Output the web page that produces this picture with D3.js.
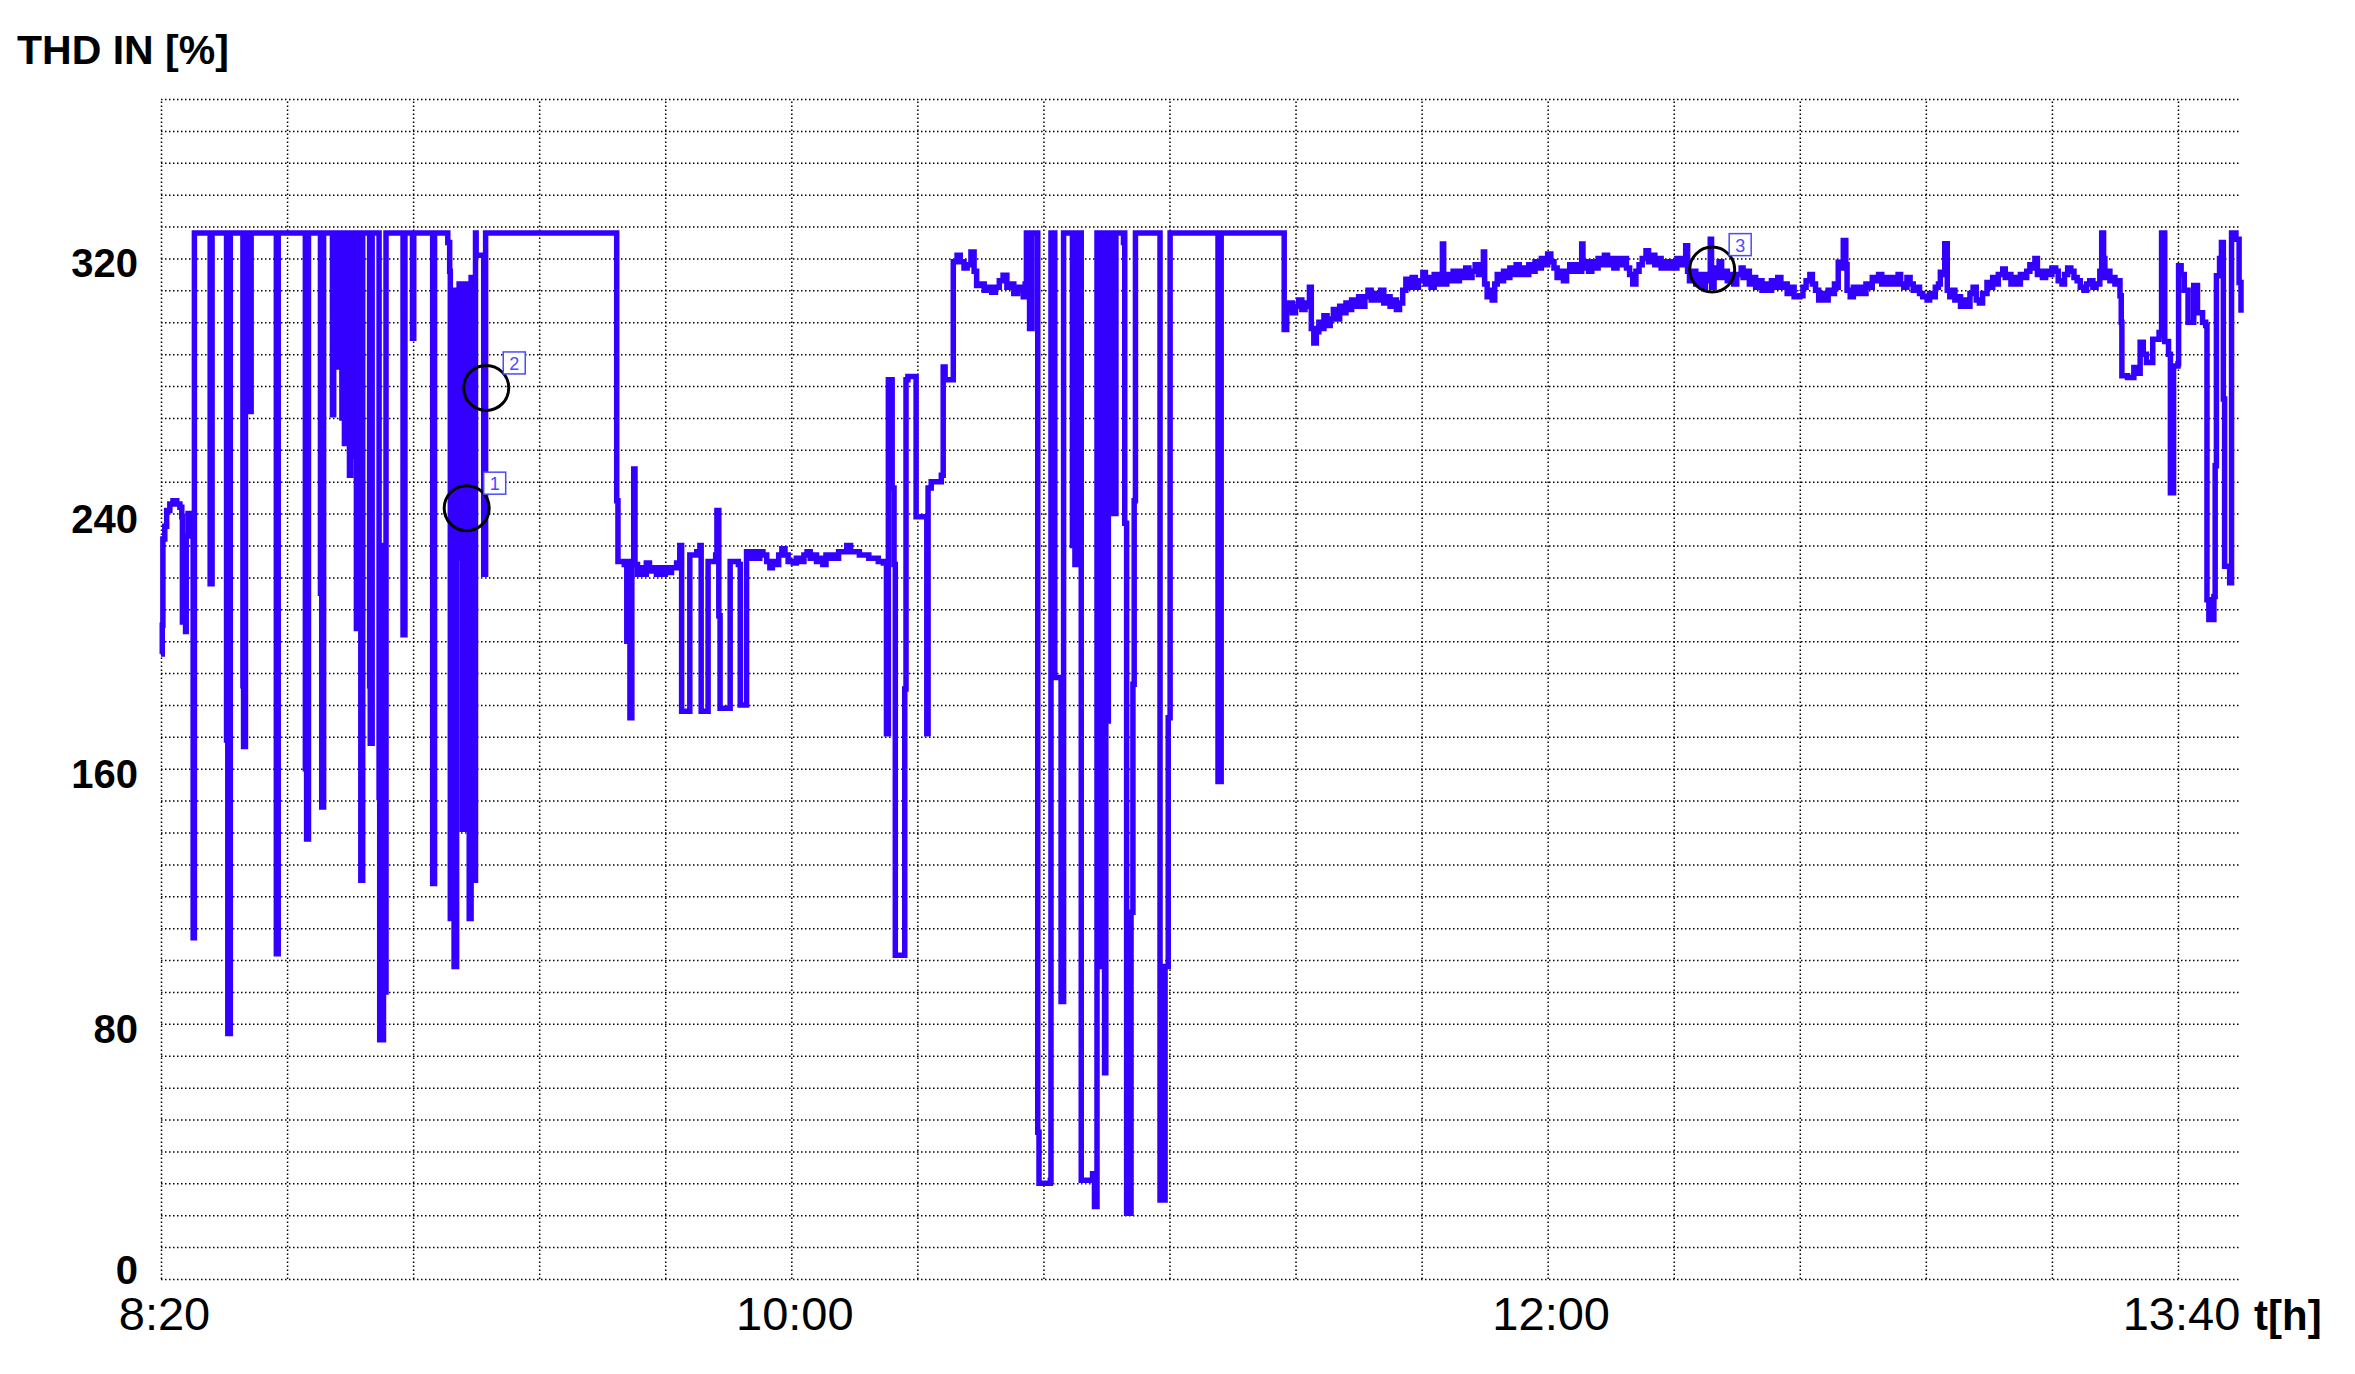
<!DOCTYPE html>
<html>
<head>
<meta charset="utf-8">
<script src="https://cdn.jsdelivr.net/npm/d3@7"></script>
<style>
body { margin: 0; background: #fff; }
svg { display: block; font-family: "Liberation Sans", Arial, sans-serif; }
.grid line { stroke: #000; stroke-width: 1.5; stroke-dasharray: 1.5, 2.5; }
.grid path { display: none; }
.ticks path { display: none; }
</style>
</head>
<body>
<script>
// minutes after 8:20, THD value [%]
var burst1 = [
    [0,196],[0.2,205],[0.3,232],[0.6,236],[0.9,241],[1.4,243],[1.9,244],[2.5,243],[3.0,242],[3.3,239],
    [3.4,206],[3.9,203],[4.0,233],[4.3,240],[4.9,240],[5.1,107],[5.3,107],[5.3,328],
    [7.8,328],[7.8,218],[8.1,218],[8.1,328],
    [10.4,328],[10.4,169],[10.6,77],[11.0,77],[11.0,328],
    [13.0,328],[13.0,186],[13.1,167],[13.4,167],[13.4,328],
    [14.0,328],[14.0,272],[14.3,272],[14.3,328],
    [18.3,328],[18.3,102],[18.6,102],[18.6,328],
    [22.9,328],[22.9,160],[23.1,138],[23.4,138],[23.4,328],
    [25.3,328],[25.3,215],[25.5,148],[25.8,148],[25.8,328],
    [27.2,328],[27.2,271],[27.4,271],[27.4,328],
    [27.8,328],[27.8,286],[28.0,286],[28.0,328],
    [28.4,300],[28.6,328],[28.7,270],[28.9,328],[29.1,262],[29.3,328],[29.5,268],[29.7,328],
    [29.9,252],[30.1,328],[30.3,275],[30.5,328],[30.6,258],[30.8,328],[31.0,204],[31.2,328],
    [31.4,270],[31.6,328],[31.7,125],[32.0,125],[32.0,328],
    [33.1,328],[33.1,186],[33.2,168],[33.5,168],[33.5,328],
    [34.6,328],[34.6,151],[34.7,75],[35.2,75],[35.3,230],[35.4,90],[35.6,90],[35.7,328],
    [38.4,328],[38.4,202],[38.7,202],[38.7,328],
    [39.9,328],[39.9,295],[40.1,295],[40.1,328],
    [43.1,328],[43.1,124],[43.4,124],[43.4,328],
    [45.3,328],[45.5,325],[45.8,316],[45.9,113],[46.2,113],[46.3,310],[46.5,98],[46.8,98],
    [46.9,310],[47.1,226],[47.3,312],[47.5,230],[47.7,312],[47.8,141],[48.0,141],[48.1,312],
    [48.3,228],[48.5,312],[48.6,259],[48.8,312],[48.9,113],[49.1,113],[49.2,314],[49.4,224],
    [49.5,314],[49.6,125],[49.8,125],[49.9,328],
    [50.0,321],[51.1,321],[51.2,221],[51.4,221],[51.5,328]
];

var plateau1 = [
    [72.3,328],[72.3,244],[72.5,225],[73.5,224],[73.9,200],[74.2,225],[74.4,176],[74.7,225],
    [75.0,254],[75.2,224],[75.6,221],[76.0,223],[76.5,221],[77.0,224.5],[77.5,222],[78.0,223],[78.6,221],
    [79.0,223],[79.5,221],[80.0,223],[80.5,221.5],[81.0,223],[81.8,224.5],
    [82.3,230],[82.6,178],[83.9,227],[85.0,228],[85.5,230],[85.7,178],[86.8,225],
    [88.0,227],[88.2,241],[88.5,208],[88.7,179],[90.3,225],[91.6,224],[91.9,180],[92.9,228],
    [93.5,226],[94.0,228],[94.5,226],[95.0,228],[95.5,227],[96.1,225],[96.6,223],[97.0,225],[97.5,224],
    [98.0,227],[98.5,229],[99.0,227],[99.5,225],[100.3,224.5],[100.8,226],[101.5,225],[102.0,227],[102.5,228],
    [103.0,226],[103.5,227],[104.0,225],[104.6,226],[105.0,224],[105.5,227],[106.0,226],[106.5,227],
    [107.0,226],[107.5,228],[108.2,228],[108.8,230],[109.4,228],[110.0,228],[110.8,227],[111.5,227],
    [112.3,226],[113.0,226],[113.8,225],[114.6,224.5],
    [115.1,171],[115.4,282],[115.8,282],[116.0,248],[116.3,224],[116.5,101.5],[117.7,101.5],
    [118.0,185],[118.2,282],[118.5,283],[119.5,283],[119.8,239],[121.3,239],[121.5,171],
    [121.7,248],[122.2,250],[123.8,252],[124.1,286],[124.4,282],[125.5,282],[125.7,319]
];

var burst2 = [
    [126.3,321],[126.8,319],[127.4,317],[127.9,318],[128.5,322],[129.0,316],[129.4,311.5],[130.0,312],
    [130.6,310],[131.3,311],[131.8,309.4],[132.4,311],[133.0,313],[133.6,314.7],[134.2,311],[134.8,312],
    [135.3,309],[135.9,311],[136.4,310],[136.8,308],[137.1,312],
    [137.3,328],[137.8,298],[138.1,298],[138.2,328],
    [139.1,328],[139.1,46],[139.3,30],[141.1,31],[141.2,328],
    [141.8,328],[141.8,188.6],[142.7,188.6],[142.8,87],[143.1,87],[143.2,328],
    [144.5,328],[144.6,230],[144.8,328],[145.0,224],[145.2,328],[145.4,232],[145.6,328],
    [146.0,328],[146.0,31],[147.8,33],[148.1,22.7],[148.4,22.7],[148.5,328],
    [148.9,98],[149.1,328],[149.3,98],[149.5,328],[149.7,64.7],[149.9,328],[150.1,175],[150.3,328],
    [150.5,240],[150.7,328],[150.9,245],[151.1,328],[151.3,240],[151.5,328],
    [152.7,325],[152.8,328],[152.9,237],[153.2,20.6],[153.7,20.6],[153.9,115],[154.2,186.5],[154.4,244],[154.6,328],
    [158.4,328],[158.5,24.8],[159.1,24.8],[159.3,98],[159.8,176],[160.1,328],
    [167.7,328],[167.7,156],[168.2,156],[168.2,328],
    [178.1,328]
];

var drift = [
    [178.2,297.7],[178.6,304],[179.0,306],[179.5,303],[180.0,305],[180.5,307],[181.0,304],[181.5,306],
    [181.8,305],[182.2,311],[182.5,298],[182.9,293.5],[183.3,297],[183.7,300],[184.1,298],[184.5,302],
    [185.0,299],[185.5,301],[186.0,304],[186.5,301],[187.0,305],[187.5,303],[188.0,306],[188.5,304],
    [188.9,307],[189.4,305],[190.0,308],[190.5,305],[191.0,308],[191.5,310],[192.0,307],[192.5,309],
    [193.0,307],[193.5,310],[194.0,306],[194.5,308],[195.0,305],[195.5,307],[196.0,304],[196.5,306],
    [197.0,310],[197.5,313.5],[198.0,311],[198.5,314],[199.0,311],[199.5,313],[200.2,315.6],[200.6,312],
    [201.0,314],[201.5,311],[202.0,315],[202.5,312],[203.0,314],[203.3,324.5],[203.5,312],[204.0,315],
    [204.5,313],[205.0,316],[205.5,313],[206.0,316],[206.5,314],[207.0,317],[207.5,314],[208.0,316],
    [208.5,318],[209.0,315],[209.5,317],[209.8,322],[210.0,312],[210.4,308],[210.8,310],[211.2,307],
    [211.6,312],[212.0,315],[212.5,313],[213.0,316],[213.5,314],[214.0,317],[214.5,315],[215.0,318],
    [215.5,315],[216.0,317],[216.5,315],[217.0,318],[217.5,316],[218.0,319],[218.5,317],[219.0,320],
    [219.5,318],[220.0,321.4],[220.5,319],[221.0,317],[221.5,314],[222.0,316],[222.5,313],[223.0,316],
    [223.5,318],[224.0,316],[224.5,318],[225.2,316],[225.4,324.5],[225.6,317],[226.0,319],[226.5,316],
    [227.0,319],[227.5,317],[228.0,320],[228.5,318],[229.0,321],[229.5,318],[230.0,320],[230.5,317],
    [231.0,320],[231.5,318],[232.0,320],[232.5,317],[233.0,315],[233.5,312],[234.0,316],[234.5,318],
    [235.0,320],[235.6,322.4],[236.0,319],[236.5,321],[237.0,318],[237.5,320],[238.0,317],[238.5,319],
    [239.0,317],[239.5,319],[240.0,317],[240.5,320],[241.0,318],[241.5,320],[241.9,324],[242.2,316],
    [242.5,313],[243.0,316],[243.5,312],[244.0,315],[244.5,311],[245.0,315],[245.5,313],[245.8,326],
    [246.0,311],[246.4,317],[246.8,314],[247.2,319],[247.6,314],[248.0,316],[248.5,313],[249.0,315],
    [249.5,312],[250.0,315],[250.7,317],[251.0,314],[251.5,316],[252.0,312],[252.5,314],[253.0,311],
    [253.5,313],[254.0,310],[254.6,312],[255.0,310],[255.5,313],[256.0,311],[256.5,314],[257.0,311],
    [257.5,312],[258.0,309],[258.5,311],[259.1,308]
];

var tail = [
    [260.0,308.3],[260.5,311],[261.0,313],[261.6,315],[262.0,312],[262.5,310],[263.0,307],[263.5,309],
    [264.0,307],[264.5,310],[265.0,309],[265.5,312],[265.8,311],[266.1,318.8],[266.5,317],[266.9,325.6],
    [267.3,318],[267.5,310],[268.0,308],[268.5,311],[269.0,309],[269.5,311],[270.0,309],[270.5,312],
    [271.0,311],[271.5,314],[272.1,313],[272.5,315],[273.0,312],[273.5,314],[274.0,312],[274.5,314],
    [275.2,312],[275.6,315],[276.0,312],[276.5,311],[277.0,314],[277.5,312],[278.0,310],[278.5,311],
    [279.0,309],[279.5,308],[280.2,307],[280.6,309],[281.0,308],[281.5,311],[282.0,312],[282.3,315.7],
    [282.9,315],[283.0,324.6],[283.4,310],[283.8,308],[284.2,310],[284.6,307],[285.0,308],[285.5,305],
    [286.0,307],[286.5,305],[287.0,309],[287.5,311],[288.0,307],[288.5,306],[289.0,309],[289.7,312.5],
    [290.2,311],[290.6,314],[291.0,312],[291.5,315],[292.2,316.7],[292.6,314],[293.0,315],[293.5,312],
    [294.0,314],[294.5,312],[295.0,315],[295.5,314],[296.0,316],[296.5,318],[297.0,317],[297.3,320],
    [297.7,315],[298.0,316],[298.5,314],[299.0,316],[299.5,315],[300.0,317],[300.6,316],[301.0,313],
    [301.6,312],[302.0,315],[302.5,317],[303.0,316],[303.5,314],[304.0,313],[304.5,311],[305.1,310],
    [305.5,312],[306.0,313],[306.5,311],[307.0,312],[307.6,316],[307.9,328],[308.2,320],[308.4,314],
    [308.8,316],[309.2,313],[309.6,314],[310.0,312],[310.4,313],[310.8,308.3],
    [311.0,300],[311.1,283.2],[312.0,282.7],[313.0,285.8],[313.5,284],
    [314.0,293.7],[314.5,290],[315.0,287.4],[316.0,294.7],[317.0,296.8],[317.3,296],[317.4,328],[317.9,294],
    [318.5,290],[318.8,246.5],[319.3,286.3],[320.0,287],[320.1,317.7],[320.5,315],[321.0,310],[321.6,300],
    [322.5,311.5],[323.1,303],[323.9,300],[324.4,299],[324.6,213],[324.9,206.8],[325.7,214],[325.9,255],
    [326.1,314.6],[326.6,320],[326.9,325],[327.2,275.9],[327.4,223.5],[328.2,218.3],[328.5,328],[329.2,326],
    [329.7,312.5],[330.0,303]
];

var markers = [
    {id: "1", t: 48.5, v: 241.7},
    {id: "2", t: 51.6, v: 279.4},
    {id: "3", t: 246.1, v: 316.5},
];

var yTicks = [0, 80, 160, 240, 320];
var xTicks = [0, 100, 220, 320];
var xTickLabels = ["8:20", "10:00", "12:00", "13:40"];
var yTitle = "THD IN [%]";
var xTitle = "t[h]";

var width = 2355;
var height = 1374;
var plot = {left: 161, right: 2241, top: 99, bottom: 1279};
var lineColor = "#3300ff";

var x = d3.scaleLinear().domain([0, 330]).range([plot.left, plot.right]);
var y = d3.scaleLinear().domain([0, 370]).range([plot.bottom, plot.top]);

var svg = d3.select("body")
    .append("svg")
    .attr("width", width)
    .attr("height", height)
;

svg.append("rect")
    .attr("width", width)
    .attr("height", height)
    .attr("fill", "#fff")
;

// dotted grid, every 10 % and every 20 minutes
svg.append("g")
    .attr("class", "grid")
    .attr("transform", `translate(${plot.left}, 0)`)
    .call(d3.axisLeft(y).tickValues(d3.range(0, 371, 10)).tickSize(-(plot.right - plot.left)).tickFormat(""))
;
svg.append("g")
    .attr("class", "grid")
    .attr("transform", `translate(0, ${plot.bottom})`)
    .call(d3.axisBottom(x).tickValues(d3.range(0, 321, 20)).tickSize(-(plot.bottom - plot.top)).tickFormat(""))
;

var series = [].concat(burst1, plateau1, burst2, drift, tail);

var line = d3.line()
    .x(d => x(d[0]))
    .y(d => y(d[1]))
    .curve(d3.curveStepAfter)
;

svg.append("path")
    .datum(series)
    .attr("fill", "none")
    .attr("stroke", lineColor)
    .attr("stroke-width", 5.5)
    .attr("stroke-linejoin", "miter")
    .attr("d", line)
;

// cursor markers
var mk = svg.append("g").selectAll("g").data(markers).enter().append("g")
    .attr("transform", d => `translate(${x(d.t)}, ${y(d.v)})`)
;
mk.append("circle")
    .attr("r", 22.5)
    .attr("fill", "none")
    .attr("stroke", "#000")
    .attr("stroke-width", 3)
;
mk.append("rect")
    .attr("x", 17)
    .attr("y", -36)
    .attr("width", 22)
    .attr("height", 22)
    .attr("fill", "#fff")
    .attr("stroke", "#4a4aff")
    .attr("stroke-width", 1.5)
;
mk.append("text")
    .attr("x", 28)
    .attr("y", -18)
    .attr("text-anchor", "middle")
    .attr("font-size", 18)
    .attr("fill", "#4a4aff")
    .text(d => d.id)
;

// axis labels
var yAxis = svg.append("g")
    .attr("class", "ticks")
    .attr("transform", "translate(138, 0)")
    .call(d3.axisLeft(y).tickValues(yTicks).tickSize(0).tickPadding(0))
;
yAxis.selectAll("text")
    .attr("font-family", "Liberation Sans, Arial, sans-serif")
    .attr("font-size", 40)
    .attr("font-weight", "bold")
    .attr("fill", "#000")
    .attr("dy", d => d === 0 ? "0.1em" : "0.46em")
;

var xAxis = svg.append("g")
    .attr("class", "ticks")
    .attr("transform", `translate(3, ${plot.bottom + 18})`)
    .call(d3.axisBottom(x).tickValues(xTicks).tickSize(0).tickPadding(0).tickFormat((d, i) => xTickLabels[i]))
;
xAxis.selectAll("text")
    .attr("font-family", "Liberation Sans, Arial, sans-serif")
    .attr("font-size", 47)
    .attr("fill", "#000")
;

svg.append("text")
    .attr("x", 17)
    .attr("y", 64)
    .attr("font-size", 41)
    .attr("font-weight", "bold")
    .text(yTitle)
;

svg.append("text")
    .attr("x", 2254)
    .attr("y", 1330)
    .attr("font-size", 42)
    .attr("font-weight", "bold")
    .text(xTitle)
;
</script>
</body>
</html>
